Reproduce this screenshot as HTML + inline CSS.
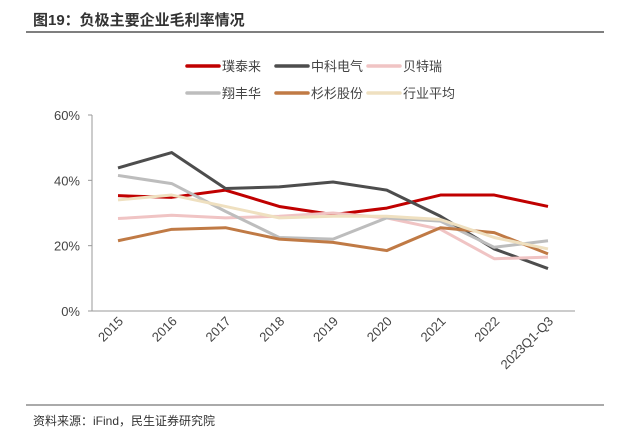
<!DOCTYPE html>
<html><head><meta charset="utf-8"><style>
body{margin:0;background:#fff;}
svg text{font-family:"Liberation Sans","Noto Sans CJK SC",sans-serif;}
</style></head><body>
<svg width="622" height="431" viewBox="0 0 622 431">
<text x="33" y="25" font-size="15" font-weight="bold" fill="#333">图19：负极主要企业毛利率情况</text>
<line x1="26" y1="32" x2="604" y2="32" stroke="#555" stroke-width="1.5"/>
<g id="legend"></g>
<g id="axes"></g>
<g id="series"></g>
<line x1="26" y1="405" x2="604" y2="405" stroke="#555" stroke-width="1"/>
<text x="33" y="425" font-size="12" fill="#333">资料来源：iFind，民生证券研究院</text>
</svg>
<script>
const categories=["2015","2016","2017","2018","2019","2020","2021","2022","2023Q1-Q3"];
const seriesNames=["璞泰来","中科电气","贝特瑞","翔丰华","杉杉股份","行业平均"];
const putailai=[35.3,34.8,37,32,29.5,31.5,35.5,35.5,32];
const zhongke=[43.8,48.5,37.5,38,39.5,37,29,19,13];
const beiterui=[28.3,29.3,28.5,29,30,28.5,25,16,16.5];
const xiangfenghua=[41.5,39,30.5,22.5,22,28.5,27.5,19.5,21.5];
const shanshan=[21.5,25,25.5,22,21,18.5,25.5,24,17.5];
const average=[34,35.5,32,28.5,29,29,28,22.5,19];
const yTicks=[0,20,40,60];
const colors=["#c00000","#4d4d4d","#f0c4c4","#bdbdbd","#c07a45","#efe0c0"];
const allSeries=[putailai,zhongke,beiterui,xiangfenghua,shanshan,average];
const NS="http://www.w3.org/2000/svg";
const x0=118,x1=548,yBase=311,yTop=115;
const xs=i=>x0+i*(x1-x0)/(categories.length-1);
const ys=v=>yBase-v/60*(yBase-yTop);
function mk(t,a,p){const e=document.createElementNS(NS,t);for(const k in a)e.setAttribute(k,a[k]);p.appendChild(e);return e;}
const ax=document.getElementById('axes');
const yl=mk('line',{x1:92,y1:yTop,x2:92,y2:yBase,stroke:'#999'},ax);


const xl=mk('line',{x1:92,y1:yBase,x2:575,y2:yBase,stroke:'#999'},ax);


yTicks.forEach(v=>{
 mk('line',{x1:88,y1:ys(v),x2:92,y2:ys(v),stroke:'#999'},ax);
 const t=mk('text',{x:80,y:ys(v)+5,'font-size':13,fill:'#444','text-anchor':'end'},ax);
 t.textContent=v+'%';
 
 
});
categories.forEach((c,i)=>{
 const x=xs(i);
 const t=mk('text',{x:x+6,y:322,'font-size':13,fill:'#444','text-anchor':'end',transform:`rotate(-45 ${x+6} 322)`},ax);
 t.textContent=c;
 
 
});
const sg=document.getElementById('series');
allSeries.forEach((s,k)=>{
 const p=mk('polyline',{points:s.map((v,i)=>xs(i)+','+ys(v)).join(' '),fill:'none',stroke:colors[k],'stroke-width':3,'stroke-linejoin':'round'},sg);
 
 
});
const lg=document.getElementById('legend');
const lx=[187,276,368];
seriesNames.forEach((n,k)=>{
 const x=lx[k%3],y=k<3?66:93;
 const l=mk('line',{x1:x,y1:y,x2:x+32,y2:y,stroke:colors[k],'stroke-width':3.5,'stroke-linecap':'round'},lg);
 
 
 const t=mk('text',{x:x+35,y:y+5,'font-size':13,fill:'#444'},lg);
 t.textContent=n;
 
 
});
</script>
</body></html>
